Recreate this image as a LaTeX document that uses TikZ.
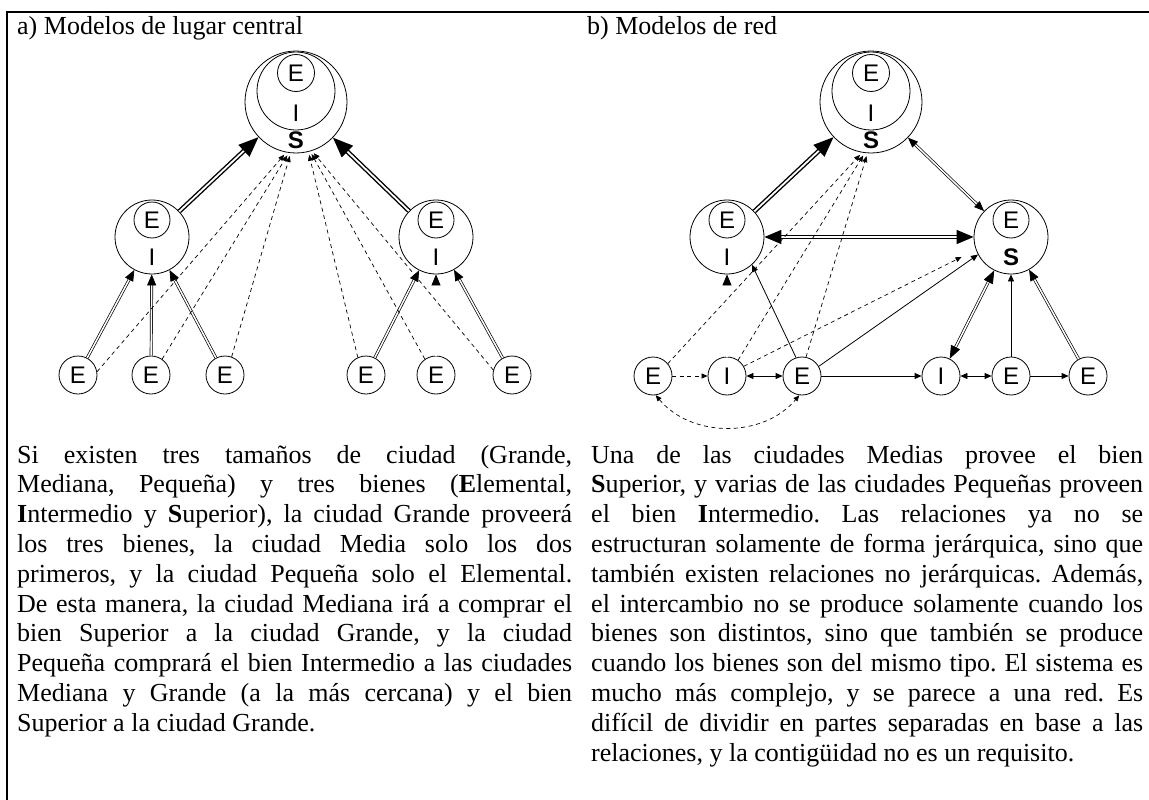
\documentclass[tikz,border=0pt]{standalone}
\usepackage{fontspec}
\setmainfont{Liberation Serif}
\newfontfamily\citysans{Liberation Sans}
\usetikzlibrary{arrows.meta}
\frenchspacing

% one justified line of the captions
\newcommand{\jl}[2]{\makebox[#1pt][s]{#2}}

\tikzset{
  ring/.style={circle, draw, line width=0.8pt, inner sep=0pt},
  city/.style={ring, minimum size=38pt, font=\citysans\fontsize{24}{24}\selectfont},
  lab/.style={inner sep=0pt, font=\citysans\fontsize{24}{24}\selectfont},
  labs/.style={inner sep=0pt, font=\citysans\bfseries\fontsize{24}{24}\selectfont},
  txt/.style={anchor=base west, inner sep=0pt, font=\fontsize{26}{30}\selectfont},
  main/.style={double, line width=1.4pt, double distance=1.8pt, -{Triangle[length=20pt,width=16pt]}},
  dbl/.style={double, line width=0.7pt, double distance=1.5pt, -{Triangle[length=11pt,width=9pt]}},
  thn/.style={line width=0.8pt, -{Triangle[length=7pt,width=6pt]}},
  dsh/.style={line width=0.7pt, dash pattern=on 4pt off 3.5pt, -{Triangle[length=6pt,width=5pt]}}
}

\begin{document}
\begin{tikzpicture}[x=1pt, y=-1pt]
\useasboundingbox (0,0) rectangle (1149,800);
% frame
\draw[line width=2pt] (7,800) -- (7,12) -- (1149,12);
% titles
\node[txt] (tita) at (17,35) {a) Modelos de lugar central};
\node[txt] (titb) at (587,35) {b) Modelos de red};

% a) large city
\node[ring, minimum size=102pt] (ga) at (296,102) {};
\node[ring, minimum size=78pt] (ga-i) at (296,91) {};
\node[city, minimum size=37pt] (ga-e) at (296,73) {E};
\node[lab] (ga-il) at (296,113) {I};
\node[labs] (ga-sl) at (296,140) {S};
% a) medium cities
\node[ring, minimum size=74pt] (ma) at (152,237) {};
\node[city, minimum size=36pt] (ma-e) at (152,220) {E};
\node[lab] (ma-il) at (152,257) {I};
\node[ring, minimum size=74pt] (mb) at (436,237) {};
\node[city, minimum size=36pt] (mb-e) at (436,220) {E};
\node[lab] (mb-il) at (436,257) {I};
% a) small cities
\node[city] (a1) at (78,375) {E};
\node[city] (a2) at (151,375) {E};
\node[city] (a3) at (225,375) {E};
\node[city] (a4) at (366,375) {E};
\node[city] (a5) at (436,375) {E};
\node[city] (a6) at (512,375) {E};
% a) arrows
\draw[main] (ma) -- (ga);
\draw[main] (mb) -- (ga);
\draw[dbl] (a1) -- (ma);
\draw[dbl] (a2) -- (ma);
\draw[dbl] (a3) -- (ma);
\draw[dbl] (a4) -- (mb);
\draw[dbl] (a5) -- (mb);
\draw[dbl] (a6) -- (mb);
\draw[dsh, shorten >=3pt] (a1.10) -- (ga.259);
\draw[dsh, shorten >=3pt] (a2.55) -- (ga.262);
\draw[dsh, shorten >=3pt] (a3.70) -- (ga.264);
\draw[dsh, shorten >=3pt] (a4.115) -- (ga.284);
\draw[dsh, shorten >=3pt] (a5.125) -- (ga.286);
\draw[dsh, shorten >=3pt] (a6.165) -- (ga.288);

% b) large city
\node[ring, minimum size=102pt] (gb) at (871,102) {};
\node[ring, minimum size=78pt] (gb-i) at (871,91) {};
\node[city, minimum size=37pt] (gb-e) at (871,73) {E};
\node[lab] (gb-il) at (871,113) {I};
\node[labs] (gb-sl) at (871,140) {S};
% b) medium cities
\node[ring, minimum size=74pt] (mc) at (727,237) {};
\node[city, minimum size=36pt] (mc-e) at (727,220) {E};
\node[lab] (mc-il) at (727,257) {I};
\node[ring, minimum size=74pt] (md) at (1011,237) {};
\node[city, minimum size=36pt] (md-e) at (1011,220) {E};
\node[labs] (md-sl) at (1011,257) {S};
% b) small cities
\node[city] (b1) at (653,376) {E};
\node[city] (b2) at (727,376) {I};
\node[city] (b3) at (802,376) {E};
\node[city] (b4) at (941,376) {I};
\node[city] (b5) at (1011,376) {E};
\node[city] (b6) at (1088,376) {E};
% b) arrows
\draw[main] (mc) -- (gb);
\draw[main, {Triangle[length=17pt,width=14pt]}-{Triangle[length=17pt,width=14pt]}] (mc) -- (md);
\draw[dbl, {Triangle[length=10pt,width=8pt]}-{Triangle[length=10pt,width=8pt]}] (gb) -- (md);
\draw[dbl] (b2) -- (mc);
\draw[thn] (b3.108) -- (mc.-48);
\draw[dsh] (b1) -- (b2);
\draw[thn, {Triangle[length=7pt,width=6pt]}-{Triangle[length=7pt,width=6pt]}] (b2) -- (b3);
\draw[thn] (b3) -- (b4);
\draw[thn, {Triangle[length=7pt,width=6pt]}-{Triangle[length=7pt,width=6pt]}] (b4) -- (b5);
\draw[thn] (b5) -- (b6);
\draw[dsh, {Triangle[length=6pt,width=5pt]}-{Triangle[length=6pt,width=5pt]}] (b1.278) to[out=-50, in=-130] (b3.262);
\draw[dsh, shorten >=3pt] (b1.40) -- (gb.260);
\draw[dsh, shorten >=3pt] (b2.55) -- (gb.263);
\draw[dsh, shorten >=3pt] (b3.78) -- (gb.266);
\draw[dsh, shorten >=16pt] (b2.30) -- (md.200);
\draw[thn] (b3.30) -- (md.208);
\draw[dbl, {Triangle[length=13pt,width=10pt]}-{Triangle[length=13pt,width=10pt]}] (b4) -- (md);
\draw[thn] (b5) -- (md);
\draw[dbl] (b6) -- (md);

% a) caption
\node[txt] (la1) at (17,463) {\jl{555}{Si existen tres tamaños de ciudad (Grande,}};
\node[txt] (la2) at (17,492.8) {\jl{555}{Mediana, Pequeña) y tres bienes (\textbf{E}lemental,}};
\node[txt] (la3) at (17,522.6) {\jl{555}{\textbf{I}ntermedio y \textbf{S}uperior), la ciudad Grande proveerá}};
\node[txt] (la4) at (17,552.4) {\jl{555}{los tres bienes, la ciudad Media solo los dos}};
\node[txt] (la5) at (17,582.2) {\jl{555}{primeros, y la ciudad Pequeña solo el Elemental.}};
\node[txt] (la6) at (17,612) {\jl{555}{De esta manera, la ciudad Mediana irá a comprar el}};
\node[txt] (la7) at (17,641.8) {\jl{555}{bien Superior a la ciudad Grande, y la ciudad}};
\node[txt] (la8) at (17,671.6) {\jl{555}{Pequeña comprará el bien Intermedio a las ciudades}};
\node[txt] (la9) at (17,701.4) {\jl{555}{Mediana y Grande (a la más cercana) y el bien}};
\node[txt] (la10) at (17,731.2) {Superior a la ciudad Grande.};
% b) caption
\node[txt] (lb1) at (591,463) {\jl{552}{Una de las ciudades Medias provee el bien}};
\node[txt] (lb2) at (591,492.8) {\jl{552}{\textbf{S}uperior, y varias de las ciudades Pequeñas proveen}};
\node[txt] (lb3) at (591,522.6) {\jl{552}{el bien \textbf{I}ntermedio. Las relaciones ya no se}};
\node[txt] (lb4) at (591,552.4) {\jl{552}{estructuran solamente de forma jerárquica, sino que}};
\node[txt] (lb5) at (591,582.2) {\jl{552}{también existen relaciones no jerárquicas. Además,}};
\node[txt] (lb6) at (591,612) {\jl{552}{el intercambio no se produce solamente cuando los}};
\node[txt] (lb7) at (591,641.8) {\jl{552}{bienes son distintos, sino que también se produce}};
\node[txt] (lb8) at (591,671.6) {\jl{552}{cuando los bienes son del mismo tipo. El sistema es}};
\node[txt] (lb9) at (591,701.4) {\jl{552}{mucho más complejo, y se parece a una red. Es}};
\node[txt] (lb10) at (591,731.2) {\jl{552}{difícil de dividir en partes separadas en base a las}};
\node[txt] (lb11) at (591,761) {relaciones, y la contigüidad no es un requisito.};
\end{tikzpicture}
\end{document}
